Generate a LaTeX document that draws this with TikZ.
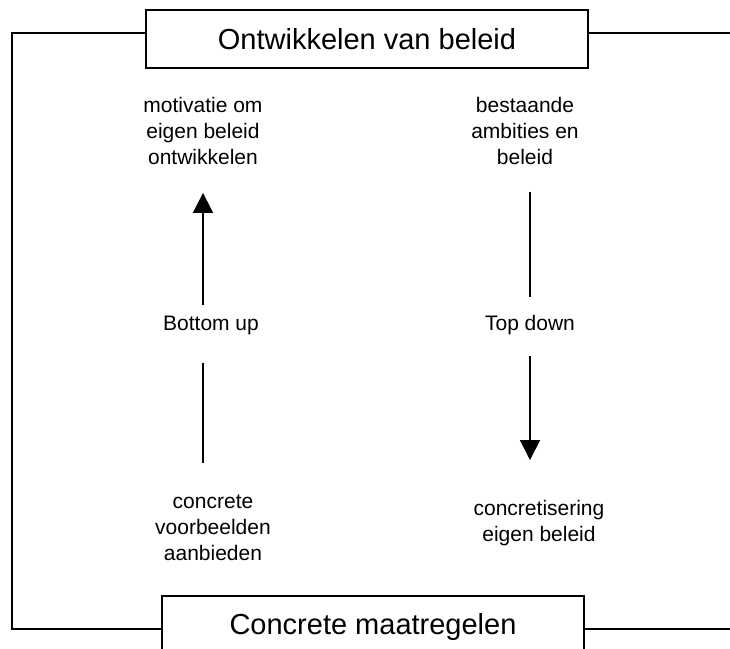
\documentclass[tikz,border=0pt]{standalone}
\usepackage{fontspec}
\setmainfont{Liberation Sans}
\usetikzlibrary{arrows.meta}
\begin{document}
\begin{tikzpicture}[x=1pt,y=-1pt,
  boxlabel/.style={draw,line width=1.6pt,inner sep=0pt,font=\fontsize{29}{34}\selectfont,text depth=0pt},
  midtext/.style={inner sep=0pt,align=center,font=\fontsize{21}{26}\selectfont},
  conn/.style={line width=1.6pt},
  arr/.style={conn,-{Triangle[length=20pt,width=20pt]}},
  framel/.style={line width=1.6pt}]
\useasboundingbox (0,0) rectangle (730,648);
\node[boxlabel,minimum width=442pt,minimum height=58pt] (top) at (367,39) {Ontwikkelen van beleid};
\node[boxlabel,minimum width=422pt,minimum height=56pt] (bot) at (373,624) {Concrete maatregelen};
\coordinate (tl) at (12,33);
\coordinate (bl) at (12,629);
\coordinate (tr) at (732,33);
\coordinate (br) at (732,629);
\draw[framel] (tl -| top.west) -- (tl) -- (bl) -- (bl -| bot.west);
\draw[framel] (tl -| top.east) -- (tr);
\draw[framel] (bl -| bot.east) -- (br);
\node[midtext] (lt) at (203,131) {motivatie om\\eigen beleid\\ontwikkelen};
\node[midtext] (rt) at (525,131) {bestaande\\ambities en\\beleid};
\node[midtext] (bu) at (211,325.5) {Bottom up};
\node[midtext] (td) at (530,325.5) {Top down};
\node[midtext] (lb) at (213,528) {concrete\\voorbeelden\\aanbieden};
\node[midtext] (rb) at (539,523) {concretisering\\eigen beleid};
\draw[arr, shorten <=10.7pt, shorten >=28pt] (bu.north -| lt) -- (lt.south);
\draw[conn, shorten <=27.6pt, shorten >=32pt] (bu.south -| lt) -- (lb.north -| lt);
\draw[conn, shorten <=27pt, shorten >=18.7pt] (rt.south -| td) -- (td.north);
\draw[arr, shorten <=20.6pt, shorten >=40pt] (td.south) -- (rb.north -| td);
\end{tikzpicture}
\end{document}
